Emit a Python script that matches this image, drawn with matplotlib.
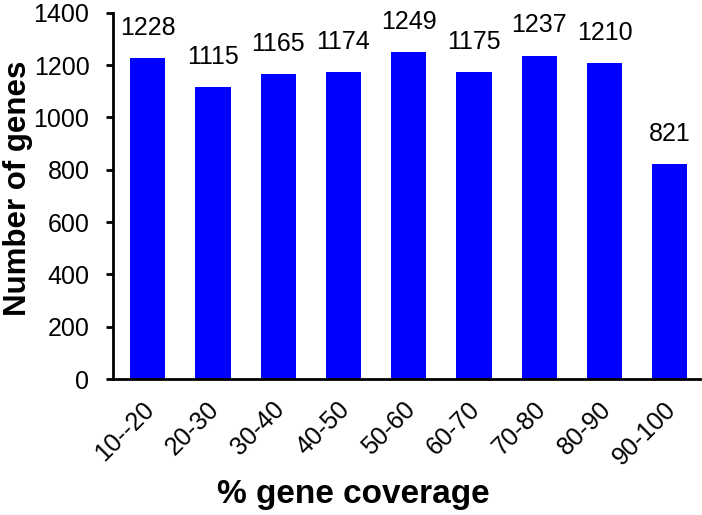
import matplotlib.pyplot as plt
from matplotlib.transforms import ScaledTranslation

plt.rcParams['font.family'] = ['Liberation Sans', 'DejaVu Sans']

# data
categories = ['10--20', '20-30', '30-40', '40-50', '50-60', '60-70', '70-80', '80-90', '90-100']
genes = [1228, 1115, 1165, 1174, 1249, 1175, 1237, 1210, 821]

fig = plt.figure(figsize=(7.02, 5.15), dpi=100)
ax = fig.add_axes([0.161, 0.264, 0.836, 0.711])

x = range(len(categories))
bars = ax.bar(x, genes, width=0.54, color='#0000FF')

for b, v in zip(bars, genes):
    ax.annotate(str(v), (b.get_x() + b.get_width() / 2, v),
                xytext=(0, 13), textcoords='offset points',
                ha='center', va='bottom', fontsize=18)

ax.set_xlim(-0.53, 8.46)
ax.set_ylim(0, 1400)
ax.set_yticks(range(0, 1401, 200))
ax.set_xticks(list(x))
ax.set_xticklabels(categories, rotation=45, ha='right', rotation_mode='anchor', fontsize=18)
ax.tick_params(axis='y', labelsize=18, length=5, width=2, pad=12)
ax.tick_params(axis='x', length=0, pad=13)

# nudge rotated labels a little to the left
shift = ScaledTranslation(-6 / 100, 0, fig.dpi_scale_trans)
for lab in ax.get_xticklabels():
    lab.set_transform(lab.get_transform() + shift)

for s in ['top', 'right']:
    ax.spines[s].set_visible(False)
for s in ['left', 'bottom']:
    ax.spines[s].set_linewidth(2)

# axis titles placed in figure coords
fig.text(18 / 702, 1 - 188 / 515, 'Number of genes', rotation=90,
         ha='center', va='center', fontsize=22.5, fontweight='bold')
fig.text(353 / 702, 1 - 495 / 515, '% gene coverage',
         ha='center', va='center', fontsize=24, fontweight='bold')

fig.savefig('out.png', dpi=100)
